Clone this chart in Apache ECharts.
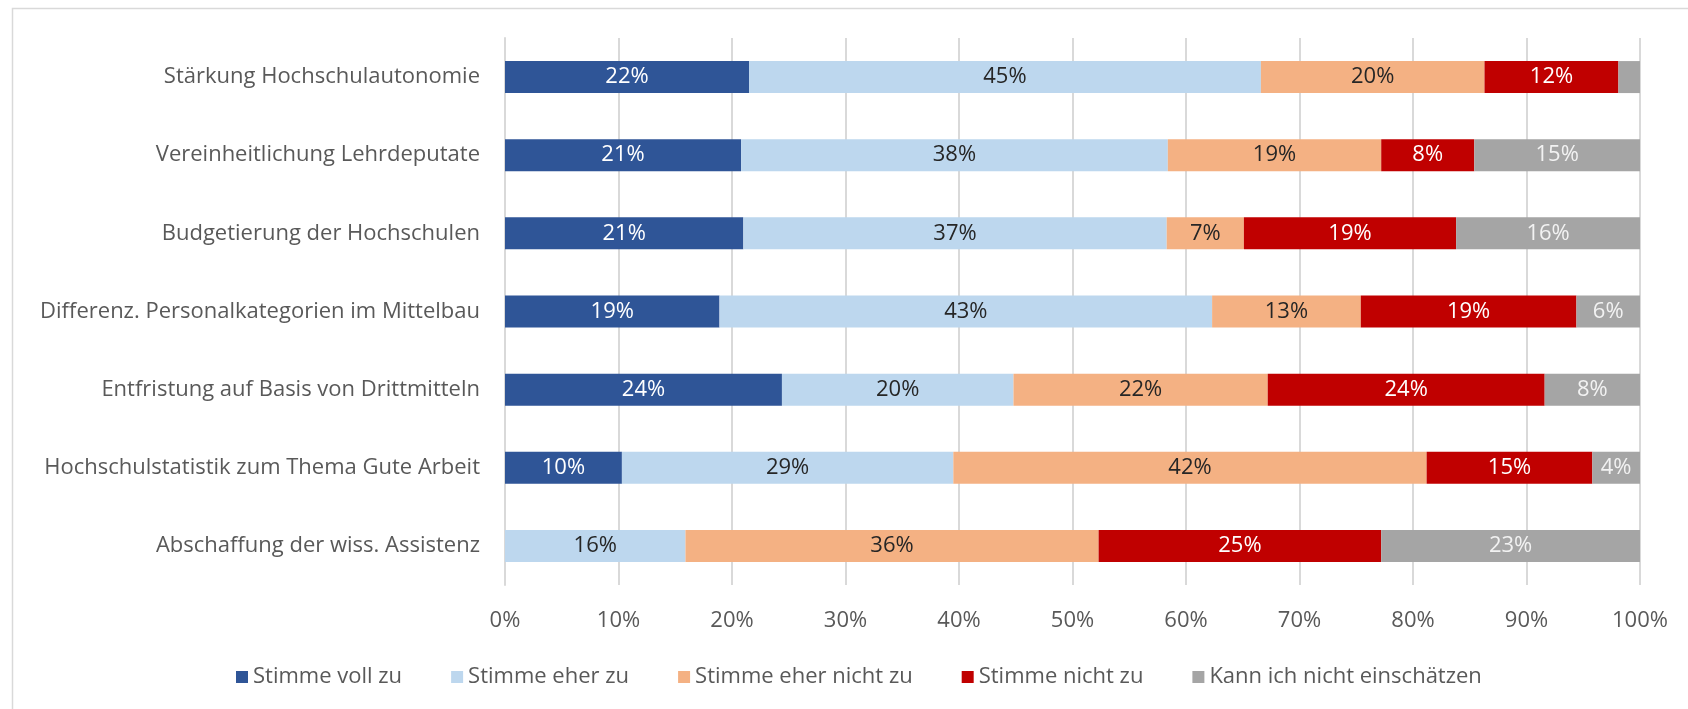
<!DOCTYPE html>
<html>
<head>
<meta charset="utf-8">
<script src="https://cdn.jsdelivr.net/npm/echarts@6/dist/echarts.min.js"></script>
<style>
html,body{margin:0;padding:0;background:#fff;}
#chart{width:1688px;height:709px;}
</style>
</head>
<body>
<div id="chart"></div>
<script>
const categories = [
  "Stärkung Hochschulautonomie",
  "Vereinheitlichung Lehrdeputate",
  "Budgetierung der Hochschulen",
  "Differenz. Personalkategorien im Mittelbau",
  "Entfristung auf Basis von Drittmitteln",
  "Hochschulstatistik zum Thema Gute Arbeit",
  "Abschaffung der wiss. Assistenz"
];
const seriesNames = ["Stimme voll zu", "Stimme eher zu", "Stimme eher nicht zu", "Stimme nicht zu", "Kann ich nicht einschätzen"];
const stimmeVollZu      = [21.5, 20.8, 21.0, 18.9, 24.4, 10.3, 0];
const stimmeEherZu      = [45.1, 37.6, 37.3, 43.4, 20.4, 29.2, 15.9];
const stimmeEherNichtZu = [19.7, 18.8, 6.8, 13.1, 22.4, 41.7, 36.4];
const stimmeNichtZu     = [11.8, 8.2, 18.7, 19.0, 24.4, 14.6, 24.9];
const kannNicht         = [1.9, 14.6, 16.2, 5.6, 8.4, 4.2, 22.8];
const xTicks = [0, 10, 20, 30, 40, 50, 60, 70, 80, 90, 100];

const values = [stimmeVollZu, stimmeEherZu, stimmeEherNichtZu, stimmeNichtZu, kannNicht];
const colors = ["#2F5597", "#BDD7EE", "#F4B183", "#C00000", "#A5A5A5"];
const labelColors = ["#FFFFFF", "#262626", "#262626", "#FFFFFF", "#F2F2F2"];
const FONT = "Open Sans";

const chart = echarts.init(document.getElementById('chart'), null, {renderer: 'canvas'});
chart.setOption({
  animation: false,
  backgroundColor: '#fff',
  textStyle: {fontFamily: FONT},
  graphic: [{
    type: 'rect', left: 10, top: 6, z: -10,
    shape: {width: 1800, height: 800},
    style: {fill: 'none', stroke: '#D9D9D9', lineWidth: 1.5}
  }],
  grid: {left: 505, right: 48, top: 38, bottom: 124, containLabel: false},
  legend: {
    data: seriesNames,
    left: 231,
    top: 661,
    icon: 'rect',
    itemWidth: 12,
    itemHeight: 12,
    itemGap: 49,
    textStyle: {fontFamily: FONT, fontSize: 22, color: '#595959'}
  },
  xAxis: {
    type: 'value', min: 0, max: 100, interval: 10,
    axisLine: {show: false},
    axisTick: {show: false},
    axisLabel: {formatter: v => xTicks.includes(v) ? v + '%' : '', fontFamily: FONT, fontSize: 22, color: '#595959', margin: 25},
    splitLine: {show: true, lineStyle: {color: '#D9D9D9', width: 2}}
  },
  yAxis: {
    type: 'category',
    data: categories,
    inverse: true,
    axisLine: {show: true, lineStyle: {color: '#D9D9D9', width: 2}},
    axisTick: {show: false},
    axisLabel: {fontFamily: FONT, fontSize: 22, color: '#595959', margin: 25}
  },
  series: seriesNames.map((name, i) => ({
    name: name,
    type: 'bar',
    stack: 'total',
    barWidth: 32,
    data: values[i],
    itemStyle: {color: colors[i]},
    label: {
      show: true,
      position: 'inside',
      fontFamily: FONT,
      fontSize: 22,
      color: labelColors[i],
      formatter: p => p.value >= 3 ? Math.round(p.value) + '%' : ''
    }
  }))
});
</script>
</body>
</html>
